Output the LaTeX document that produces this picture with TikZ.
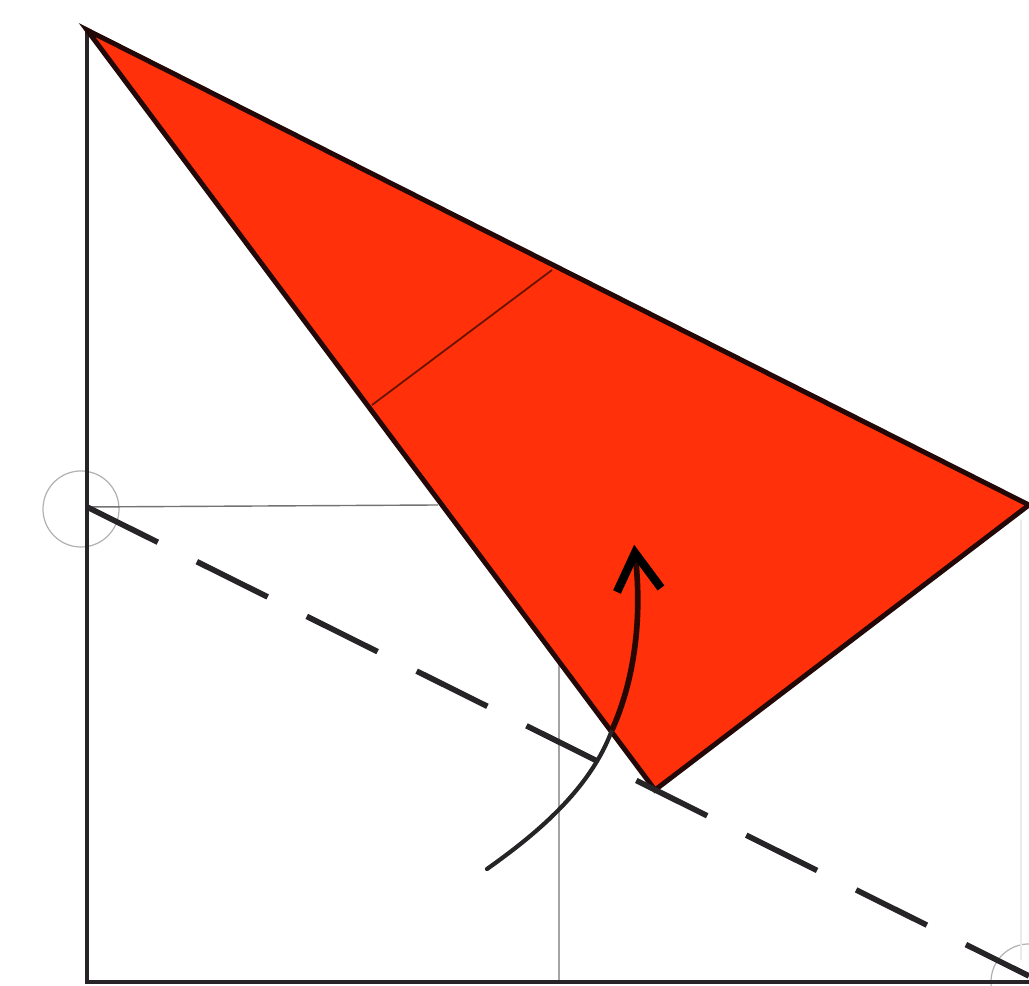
\documentclass[tikz,border=0pt]{standalone}
\definecolor{foldred}{RGB}{255,48,10}
\definecolor{inkdark}{RGB}{38,36,38}
\definecolor{inkred}{RGB}{35,8,8}
\begin{document}
\begin{tikzpicture}[x=0.01cm, y=-0.01cm, edge/.style={draw=inkdark, line width=1.4pt}, thinline/.style={draw=black!55, line width=0.4pt}, circ/.style={draw=black!30, circle, line width=0.35pt, inner sep=0pt, minimum size=0.76cm}]
    \useasboundingbox (0,0) rectangle (1029,986);
    \coordinate (apex) at (87,30); \coordinate (right) at (1029,505); \coordinate (tip) at (655,790); \coordinate (midleft) at (87,507);
    \coordinate (foldA) at (552,270); \coordinate (foldB) at (372,405); \coordinate (botleft) at (87,982); \coordinate (botright) at (1029,982);
    \coordinate (thinA) at (438,505); \coordinate (thinB) at (559,663); \coordinate (thinC) at (559,982); \coordinate (dashend) at (1029,976);
    \coordinate (faintA) at (1021,520); \coordinate (faintB) at (1021,960);
    \coordinate (start) at (487,869); \coordinate (bend) at (612,730); \coordinate (head) at (635,553); \coordinate (headL) at (617,592); \coordinate (headR) at (661,588);
    \node[circ] (circA) at (81,509) {}; \node[circ] (circB) at (1029,982) {};
    \draw[thinline] (midleft)--(thinA) (thinB)--(thinC);
    \draw[black!8, line width=0.5pt] (faintA)--(faintB);
    \draw[edge] (apex)--(botleft)--(botright);
    \draw[draw=inkred, line width=1.4pt, fill=foldred, line join=miter] (apex)--(right)--(tip)--cycle;
    \draw[draw=black!60!foldred, line width=0.5pt] (foldA)--(foldB);
    \draw[inkdark, line width=1.6pt, dash pattern=on 22.5pt off 12.4pt] (midleft)--(dashend);
    \draw[inkdark, line width=1.2pt, line cap=round] (start) .. controls (535,835) and (590,790) .. (bend);
    \draw[black!85!foldred, line width=1.6pt] (bend) .. controls (630,690) and (644,630) .. (head);
    \draw[black, line width=2.4pt, line join=miter] (headL)--(head)--(headR);% Arrow
\end{tikzpicture}
\end{document}
